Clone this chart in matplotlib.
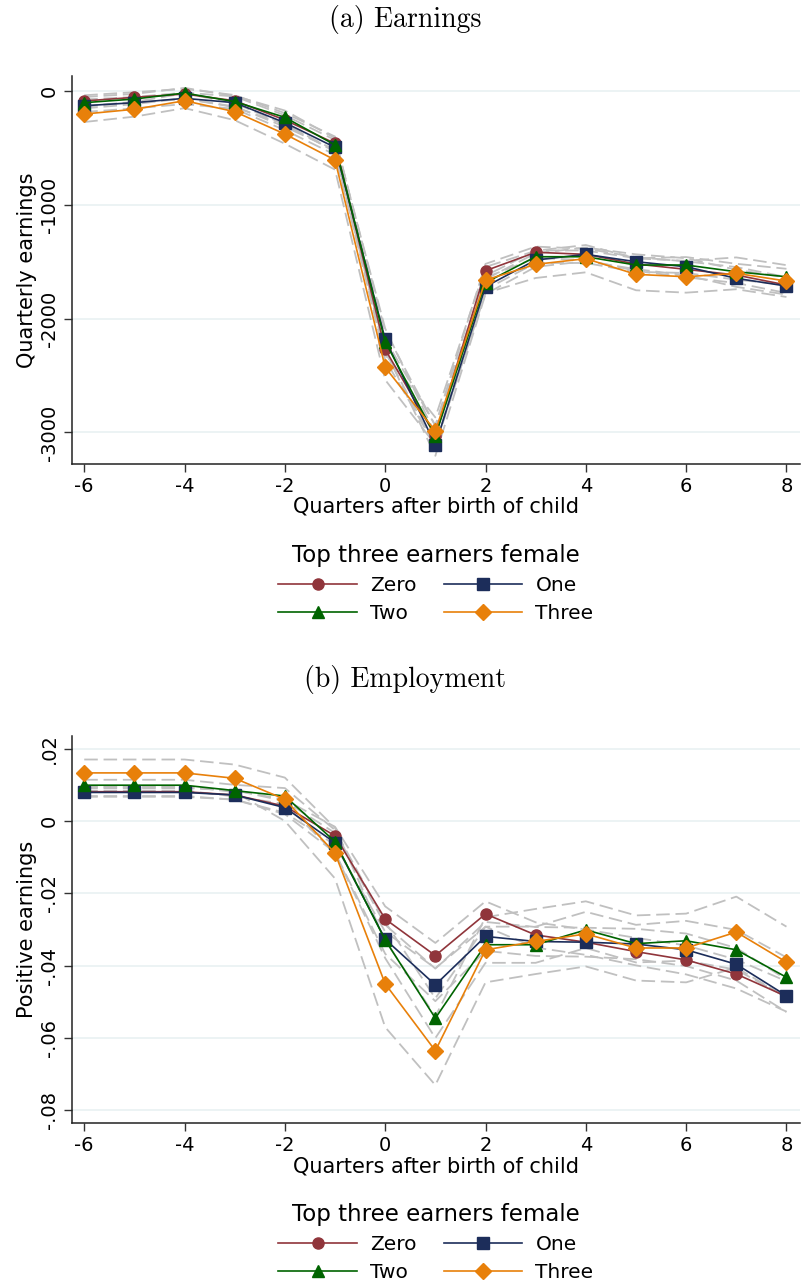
import numpy as np
import matplotlib
matplotlib.use("Agg")
import matplotlib.pyplot as plt

quarters = np.arange(-6, 9)
groups = ["Zero", "One", "Two", "Three"]

# (a) quarterly earnings, point estimates
earn_zero = [-85, -53, -24, -83, -252, -458, -2270, -3030, -1578, -1416, -1434, -1519, -1566, -1616, -1704]
earn_one = [-127, -100, -62, -100, -276, -493, -2181, -3111, -1718, -1484, -1434, -1499, -1543, -1645, -1713]
earn_two = [-100, -68, -15, -91, -229, -472, -2202, -3032, -1683, -1455, -1455, -1528, -1528, -1587, -1631]
earn_three = [-200, -158, -83, -179, -376, -604, -2428, -2988, -1660, -1522, -1472, -1610, -1631, -1601, -1669]
# confidence interval half widths
earn_ci_zero = [50, 45, 45, 50, 60, 60, 90, 90, 60, 50, 50, 60, 70, 70, 70]
earn_ci_one = [55, 50, 50, 55, 65, 65, 95, 95, 65, 60, 60, 65, 75, 75, 75]
earn_ci_two = [50, 45, 45, 50, 60, 60, 90, 90, 60, 55, 55, 60, 70, 70, 70]
earn_ci_three = [70, 65, 65, 75, 85, 85, 110, 120, 115, 120, 120, 140, 140, 140, 140]

# (b) employment (positive earnings), point estimates
emp_zero = [0.0081, 0.0081, 0.0081, 0.0072, 0.0041, -0.0041, -0.0271, -0.0372, -0.0257, -0.0315, -0.0335, -0.0361, -0.0384, -0.0423, -0.0485]
emp_one = [0.0079, 0.0079, 0.0079, 0.0072, 0.0037, -0.0060, -0.0327, -0.0453, -0.0319, -0.0333, -0.0335, -0.0340, -0.0356, -0.0396, -0.0483]
emp_two = [0.0099, 0.0099, 0.0099, 0.0084, 0.0069, -0.0057, -0.0329, -0.0545, -0.0342, -0.0342, -0.0301, -0.0339, -0.0331, -0.0356, -0.0432]
emp_three = [0.0133, 0.0133, 0.0133, 0.0118, 0.0060, -0.0089, -0.0450, -0.0635, -0.0356, -0.0333, -0.0312, -0.0351, -0.0351, -0.0307, -0.0390]
emp_ci_zero = [0.0012, 0.0012, 0.0012, 0.0013, 0.0018, 0.0025, 0.0035, 0.0035, 0.0035, 0.0035, 0.0035, 0.0038, 0.0040, 0.0040, 0.0042]
emp_ci_one = [0.0012, 0.0012, 0.0012, 0.0013, 0.0018, 0.0027, 0.0040, 0.0045, 0.0040, 0.0040, 0.0040, 0.0042, 0.0045, 0.0045, 0.0045]
emp_ci_two = [0.0015, 0.0015, 0.0015, 0.0016, 0.0022, 0.0032, 0.0050, 0.0055, 0.0050, 0.0050, 0.0050, 0.0052, 0.0055, 0.0055, 0.0055]
emp_ci_three = [0.0037, 0.0037, 0.0037, 0.0038, 0.0060, 0.0070, 0.0120, 0.0095, 0.0090, 0.0090, 0.0090, 0.0090, 0.0095, 0.0098, 0.0098]

earn_ticks = [0, -1000, -2000, -3000]
earn_ticklabels = ["0", "-1000", "-2000", "-3000"]
emp_ticks = [0.02, 0, -0.02, -0.04, -0.06, -0.08]
emp_ticklabels = [".02", "0", "-.02", "-.04", "-.06", "-.08"]
xticks = [-6, -4, -2, 0, 2, 4, 6, 8]

colors = ["#90353b", "#1c2d5a", "#006400", "#e8800a"]
markers = ["o", "s", "^", "D"]
msizes = [8, 8, 9, 8]

W, H = 804, 1283
fig = plt.figure(figsize=(W / 100, H / 100), dpi=100)


def px_axes(left, top, right, bottom):
    return fig.add_axes([left / W, 1 - bottom / H, (right - left) / W, (bottom - top) / H])


panels = [
    dict(title="(a) Earnings", title_y=20, top=76, bottom=464, ylim=(-3278, 134.6),
         vals=[earn_zero, earn_one, earn_two, earn_three],
         cis=[earn_ci_zero, earn_ci_one, earn_ci_two, earn_ci_three],
         ticks=earn_ticks, ticklabels=earn_ticklabels, ylabel="Quarterly earnings", leg_top=534),
    dict(title="(b) Employment", title_y=680, top=736, bottom=1123.3, ylim=(-0.08356, 0.0235),
         vals=[emp_zero, emp_one, emp_two, emp_three],
         cis=[emp_ci_zero, emp_ci_one, emp_ci_two, emp_ci_three],
         ticks=emp_ticks, ticklabels=emp_ticklabels, ylabel="Positive earnings", leg_top=1193),
]

for p in panels:
    ax = px_axes(71.7, p["top"], 800, p["bottom"])
    ax.set_xlim(-6.25, 8.27)
    ax.set_ylim(*p["ylim"])
    for t in p["ticks"]:
        ax.axhline(t, color="#eaf2f3", lw=1.3, zorder=0)

    # confidence bands, grey dashed
    for v, c in zip(p["vals"], p["cis"]):
        v = np.array(v)
        c = np.array(c)
        for band in (v - c, v + c):
            ax.plot(quarters, band, color="#c0c0c0", lw=1.3, ls=(0, (7.5, 3.2)), zorder=1)

    handles = []
    for v, col, m, ms, g in zip(p["vals"], colors, markers, msizes, groups):
        h, = ax.plot(quarters, v, color=col, marker=m, ms=ms, lw=1.2, mec=col, label=g, zorder=3)
        handles.append(h)

    ax.set_xticks(xticks)
    ax.set_xticklabels([str(x) for x in xticks], fontsize=14)
    ax.set_yticks(p["ticks"])
    ax.set_yticklabels(p["ticklabels"], fontsize=14, rotation=90, va="center")
    ax.tick_params(length=6, width=1, color="#333333", pad=3)
    for s in ["top", "right"]:
        ax.spines[s].set_visible(False)
    for s in ["left", "bottom"]:
        ax.spines[s].set_linewidth(1.1)
        ax.spines[s].set_color("#222222")
    ax.set_xlabel("Quarters after birth of child", fontsize=15, labelpad=1)
    ax.set_ylabel(p["ylabel"], fontsize=15, labelpad=2)

    fig.text(405 / W, 1 - p["title_y"] / H, p["title"], family="cmr10", fontsize=20,
             ha="center", va="center")

    # legend in the order Zero One / Two Three
    order = [0, 2, 1, 3]
    leg = fig.legend([handles[i] for i in order], [groups[i] for i in order], ncol=2,
                     loc="upper center", bbox_to_anchor=(436 / W, 1 - p["leg_top"] / H),
                     frameon=False, fontsize=14.5, title="Top three earners female",
                     title_fontsize=16.5, handlelength=3.9, handletextpad=0.65,
                     columnspacing=1.35, labelspacing=0.45, numpoints=1, borderpad=0)

fig.savefig("out.png", dpi=100)
